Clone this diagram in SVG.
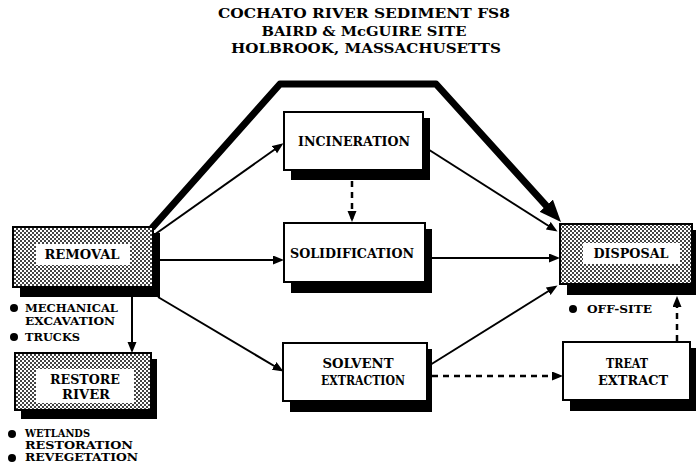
<svg xmlns="http://www.w3.org/2000/svg" width="696" height="475" viewBox="0 0 696 475">
<defs>
<pattern id="stip" width="4" height="4" patternUnits="userSpaceOnUse"><rect width="4" height="4" fill="#fff"/><rect width="2" height="2" fill="#444"/><rect x="2" y="2" width="2" height="2" fill="#444"/></pattern>
<marker id="arr" markerUnits="userSpaceOnUse" markerWidth="12" markerHeight="10" refX="8" refY="4.5" orient="auto"><path d="M0,0 L11,4.5 L0,9 z" fill="#000"/></marker>
<marker id="big" markerUnits="userSpaceOnUse" markerWidth="24" markerHeight="20" refX="8" refY="9" orient="auto"><path d="M0,0 L22,9 L0,18 z" fill="#000"/></marker>
<style>
.t{font-family:"DejaVu Serif","Liberation Serif",serif;font-weight:bold;font-size:12px;fill:#000}
.n{font-family:"DejaVu Serif","Liberation Serif",serif;font-weight:bold;font-size:11px;fill:#000}
.ti{font-family:"DejaVu Serif","Liberation Serif",serif;font-weight:bold;font-size:13.5px;fill:#000}
.box{fill:#fff;stroke:#000;stroke-width:2}
.hbox{fill:url(#stip);stroke:#000;stroke-width:2}
.sh{fill:#000}
.ln{fill:none;stroke:#000;stroke-width:2}
.thick{fill:none;stroke:#000;stroke-width:7;stroke-linejoin:round}
.dl{fill:none;stroke:#000;stroke-width:2.5;stroke-dasharray:6,5}
</style>
</defs>
<rect width="696" height="475" fill="#fff"/>
<g id="title">
<text class="ti" x="364" y="18" text-anchor="middle" textLength="292" lengthAdjust="spacingAndGlyphs">COCHATO RIVER SEDIMENT FS8</text>
<text class="ti" x="364" y="36" text-anchor="middle" textLength="205" lengthAdjust="spacingAndGlyphs">BAIRD &amp; McGUIRE SITE</text>
<text class="ti" x="366" y="53" text-anchor="middle" textLength="270" lengthAdjust="spacingAndGlyphs">HOLBROOK, MASSACHUSETTS</text>
</g>
<g id="connectors">
<path class="thick" d="M152,228 L280,84 L436,84 L551.6,211.6" marker-end="url(#big)"/>
<path class="ln" d="M154,235 L281,145" marker-end="url(#arr)"/>
<path class="ln" d="M160,260 L281,260" marker-end="url(#arr)"/>
<path class="ln" d="M158,297 L281,370" marker-end="url(#arr)"/>
<path class="ln" d="M423,146 L555,230" marker-end="url(#arr)"/>
<path class="ln" d="M432,258 L557,258" marker-end="url(#arr)"/>
<path class="ln" d="M430,365 L555,287" marker-end="url(#arr)"/>
<path class="ln" d="M132,297 L132,350" marker-end="url(#arr)"/>
<path class="dl" d="M352,181 L352,219" marker-end="url(#arr)"/>
<path class="dl" d="M432,376 L560,376" marker-end="url(#arr)"/>
<path class="dl" d="M677,341 L677,299" marker-end="url(#arr)"/>
</g>
<g id="removal">
<rect class="sh" x="20" y="233" width="140" height="64"/>
<rect class="hbox" x="13" y="227" width="140" height="60"/>
<rect x="36" y="244" width="94" height="21" fill="#fff"/>
<text class="t" x="82" y="259" text-anchor="middle" textLength="75" lengthAdjust="spacingAndGlyphs">REMOVAL</text>
</g>
<g id="removal-notes">
<circle cx="14" cy="308" r="4"/>
<text class="n" x="25" y="312" textLength="93" lengthAdjust="spacingAndGlyphs">MECHANICAL</text>
<text class="n" x="25" y="325" textLength="90" lengthAdjust="spacingAndGlyphs">EXCAVATION</text>
<circle cx="14" cy="337" r="4"/>
<text class="n" x="25" y="341" textLength="55" lengthAdjust="spacingAndGlyphs">TRUCKS</text>
</g>
<g id="incineration">
<rect class="sh" x="291" y="118" width="139" height="62"/>
<rect class="box" x="284" y="112" width="139" height="58"/>
<text class="t" x="354" y="146" text-anchor="middle" textLength="112" lengthAdjust="spacingAndGlyphs">INCINERATION</text>
</g>
<g id="solidification">
<rect class="sh" x="291" y="229" width="141" height="64"/>
<rect class="box" x="284" y="223" width="141" height="59"/>
<text class="t" x="352" y="258" text-anchor="middle" textLength="124" lengthAdjust="spacingAndGlyphs">SOLIDIFICATION</text>
</g>
<g id="solvent-extraction">
<rect class="sh" x="290" y="349" width="142" height="63"/>
<rect class="box" x="283" y="343" width="144" height="58"/>
<text class="t" x="358" y="368" text-anchor="middle" textLength="71" lengthAdjust="spacingAndGlyphs">SOLVENT</text>
<text class="t" x="363" y="385" text-anchor="middle" textLength="84" lengthAdjust="spacingAndGlyphs">EXTRACTION</text>
</g>
<g id="treat-extract">
<rect class="sh" x="570" y="348" width="126" height="63"/>
<rect class="box" x="563" y="342" width="127" height="58"/>
<text class="t" x="627" y="368" text-anchor="middle" textLength="42" lengthAdjust="spacingAndGlyphs">TREAT</text>
<text class="t" x="633" y="385" text-anchor="middle" textLength="70" lengthAdjust="spacingAndGlyphs">EXTRACT</text>
</g>
<g id="disposal">
<rect class="sh" x="567" y="230" width="129" height="65"/>
<rect class="hbox" x="560" y="224" width="132" height="60"/>
<rect x="583" y="243" width="97" height="21" fill="#fff"/>
<text class="t" x="631" y="258" text-anchor="middle" textLength="75" lengthAdjust="spacingAndGlyphs">DISPOSAL</text>
</g>
<g id="disposal-notes">
<circle cx="573" cy="309" r="4"/>
<text class="n" x="587" y="313" textLength="65" lengthAdjust="spacingAndGlyphs">OFF-SITE</text>
</g>
<g id="restore-river">
<rect class="sh" x="21" y="359" width="136" height="60"/>
<rect class="hbox" x="15" y="353" width="136" height="57"/>
<rect x="36" y="369" width="98" height="34" fill="#fff"/>
<text class="t" x="85" y="384" text-anchor="middle" textLength="70" lengthAdjust="spacingAndGlyphs">RESTORE</text>
<text class="t" x="86" y="399" text-anchor="middle" textLength="48" lengthAdjust="spacingAndGlyphs">RIVER</text>
</g>
<g id="restore-notes">
<circle cx="12" cy="434" r="4"/>
<text class="n" x="25" y="437" font-size="10" textLength="65" lengthAdjust="spacingAndGlyphs">WETLANDS</text>
<text class="n" x="25" y="449" font-size="10" textLength="108" lengthAdjust="spacingAndGlyphs">RESTORATION</text>
<circle cx="12" cy="458" r="4"/>
<text class="n" x="25" y="461" font-size="10" textLength="113" lengthAdjust="spacingAndGlyphs">REVEGETATION</text>
</g>
</svg>
